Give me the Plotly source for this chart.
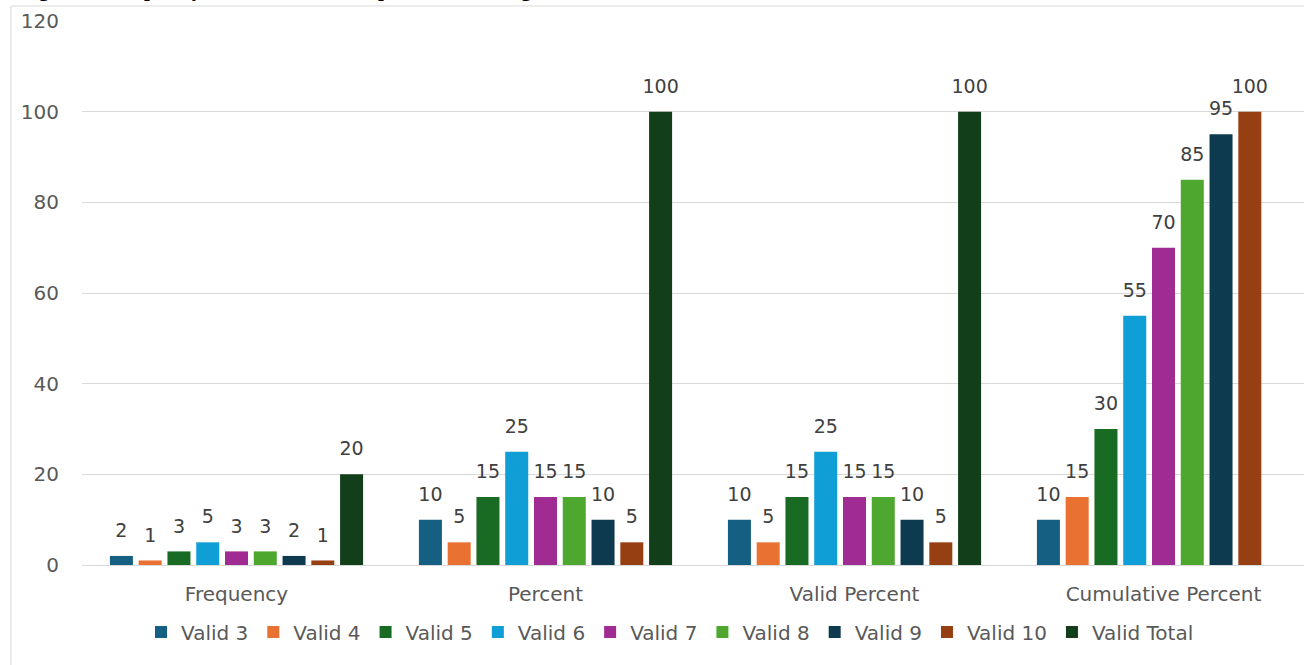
import plotly.graph_objects as go

categories = ["Frequency", "Percent", "Valid Percent", "Cumulative Percent"]

series_names = ["Valid 3", "Valid 4", "Valid 5", "Valid 6", "Valid 7",
                "Valid 8", "Valid 9", "Valid 10", "Valid Total"]

valid_3 = [2, 10, 10, 10]
valid_4 = [1, 5, 5, 15]
valid_5 = [3, 15, 15, 30]
valid_6 = [5, 25, 25, 55]
valid_7 = [3, 15, 15, 70]
valid_8 = [3, 15, 15, 85]
valid_9 = [2, 10, 10, 95]
valid_10 = [1, 5, 5, 100]
valid_total = [20, 100, 100, None]

series_values = [valid_3, valid_4, valid_5, valid_6, valid_7,
                 valid_8, valid_9, valid_10, valid_total]

colors = ["#156082", "#E97132", "#196B24", "#0F9ED5", "#A02B93",
          "#4EA72E", "#0E3A50", "#953F12", "#123F1A"]

y_ticks = [0, 20, 40, 60, 80, 100, 120]

title_text = "Figure 1: Frequency Distribution of Respondents' Rating Scores"

FONT = "DejaVu Sans, Verdana, sans-serif"
GAP = 0.162

fig = go.Figure()
for name, vals, col in zip(series_names, series_values, colors):
    fig.add_trace(go.Bar(
        x=categories, y=vals, name=name,
        marker=dict(color=col, line=dict(width=0)),
        hoverinfo="x+y+name",
    ))

# data labels, grouped to sit above their bars
for name, vals, col in zip(series_names, series_values, colors):
    fig.add_trace(go.Scatter(
        x=categories, y=vals, name=name + " label",
        mode="markers+text",
        text=[("" if v is None else str(v)) for v in vals],
        textposition="top center",
        textfont=dict(family=FONT, size=19, color="#404040"),
        marker=dict(size=21, color="rgba(0,0,0,0)"),
        showlegend=False, hoverinfo="skip", cliponaxis=False,
    ))

W, H = 1304, 665
L, T, B = 82, 21, 100
plot_h = H - T - B
plot_w = W - L

def px_x(px):
    return (px - L) / plot_w

def px_y(py):
    return (H - B - py) / plot_h

fig.update_layout(
    width=W, height=H,
    margin=dict(l=L, r=0, t=T, b=B, pad=0),
    paper_bgcolor="white", plot_bgcolor="white",
    barmode="group", bargap=GAP, bargroupgap=0.2,
    scattermode="group", scattergap=GAP,
    font=dict(family=FONT, size=20, color="#595959"),
    showlegend=True,
    legend=dict(
        orientation="h", x=px_x(670), xanchor="center",
        y=px_y(632), yanchor="middle",
        font=dict(family=FONT, size=20, color="#595959"),
        itemsizing="constant", traceorder="normal",
        bgcolor="rgba(0,0,0,0)",
    ),
    xaxis=dict(
        type="category", range=[-0.5, -0.5 + plot_w / 309.0],
        showgrid=False, zeroline=False, showline=False,
        ticks="", ticklabelstandoff=15,
        tickfont=dict(family=FONT, size=20, color="#595959"),
        fixedrange=True,
    ),
    yaxis=dict(
        range=[0, 120], tickvals=y_ticks,
        showgrid=True, gridcolor="#D9D9D9", gridwidth=1,
        zeroline=True, zerolinecolor="#D9D9D9", zerolinewidth=1,
        showline=False, ticks="", ticklabelstandoff=22,
        tickfont=dict(family=FONT, size=20, color="#595959"),
        fixedrange=True,
    ),
    shapes=[dict(
        type="rect", xref="paper", yref="paper",
        x0=px_x(11), x1=px_x(1320), y0=px_y(680), y1=px_y(6),
        line=dict(color="#D9D9D9", width=1), fillcolor="rgba(0,0,0,0)",
        layer="below",
    )],
    annotations=[dict(
        text="<b>" + title_text + "</b>", xref="paper", yref="paper",
        x=px_x(18), xanchor="left", y=px_y(2.5), yanchor="bottom",
        showarrow=False,
        font=dict(family="Liberation Serif, Times New Roman, serif", size=21, color="black"),
    )],
)

fig.write_html("out.html")
